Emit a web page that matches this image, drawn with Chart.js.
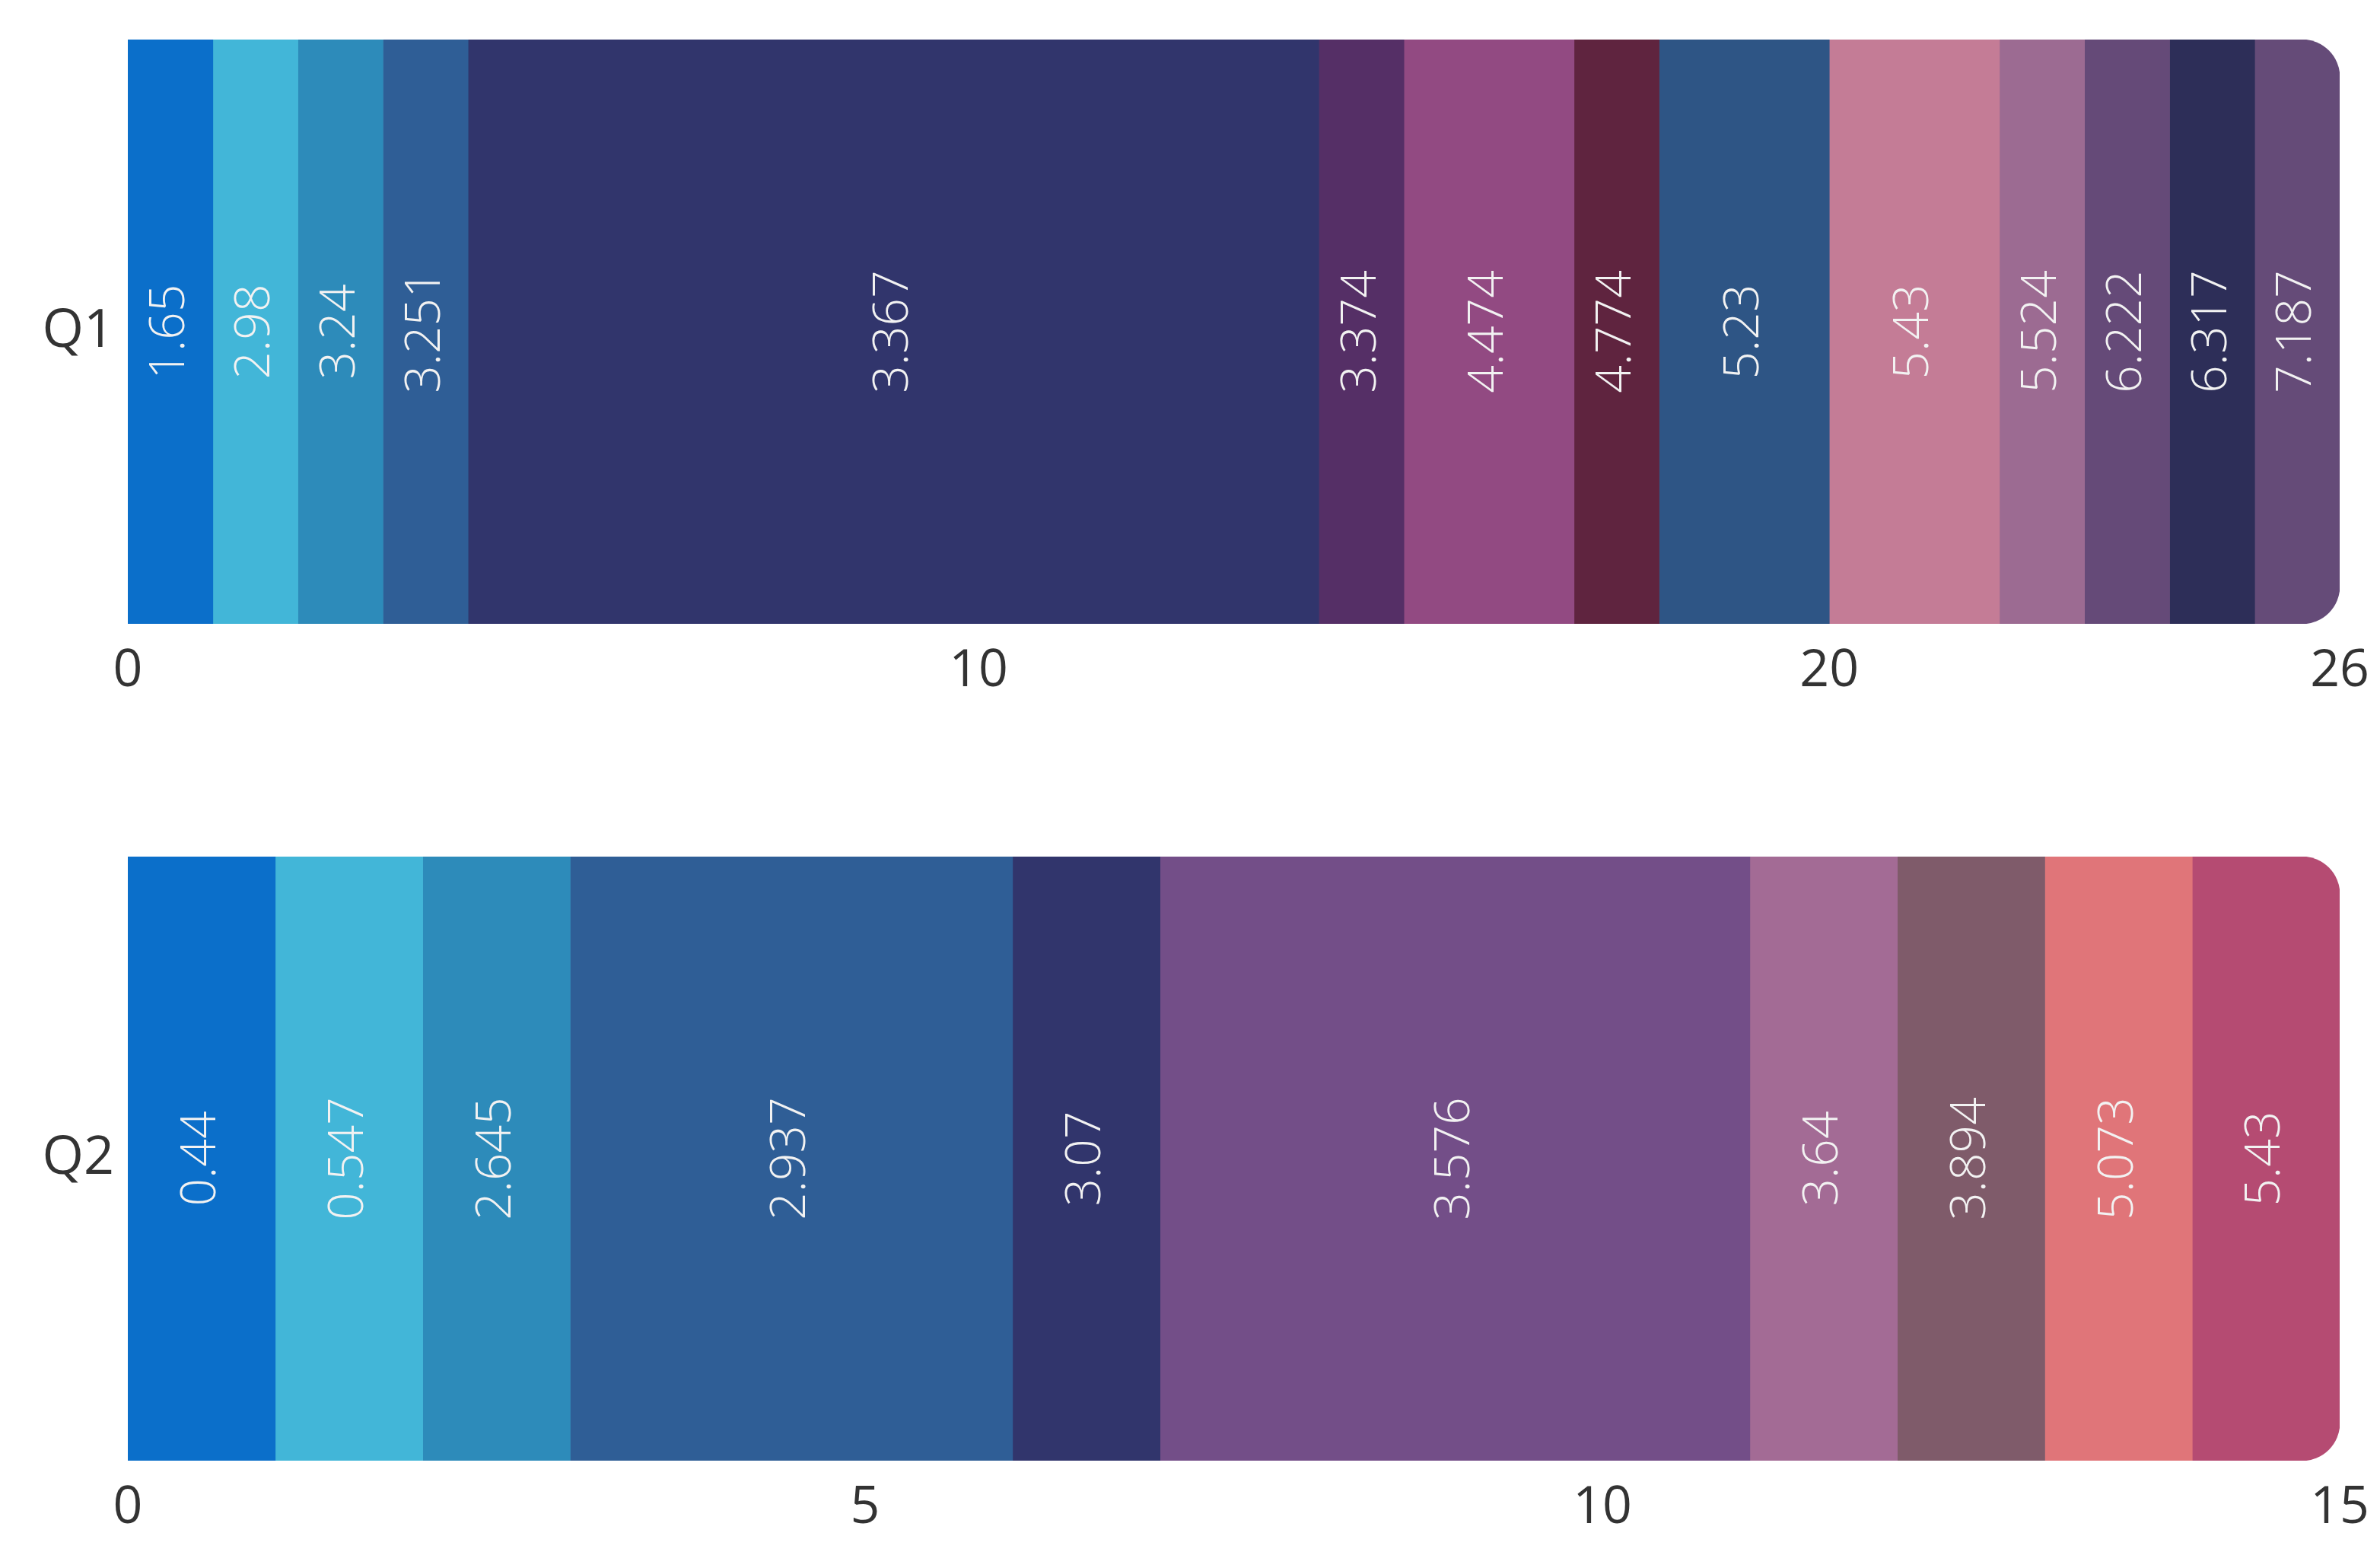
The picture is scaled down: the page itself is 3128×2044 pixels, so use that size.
<!DOCTYPE html>
<html><head><meta charset="utf-8">
<script src="https://cdn.jsdelivr.net/npm/chart.js@4"></script>
<style>body{margin:0;background:#fff}canvas{display:block}</style>
</head><body>
<div style="width:3128px;height:1000px"><canvas id="c1"></canvas></div>
<div style="width:3128px;height:1044px"><canvas id="c2"></canvas></div>
<script>
const q1Widths = [1,1,1,1,10,1,2,1,2,2,1,1,1,1];
const q1Labels = ["1.65","2.98","3.24","3.251","3.367","3.374","4.474","4.774","5.23","5.43","5.524","6.222","6.317","7.187"];
const q1Colors = ["#0b6fca","#42b6d8","#2d8bba","#2f5e96","#31356c","#552f66","#924a82","#5f243f","#2e5585","#c47c96","#9c6b92","#654a78","#2d2e58","#654b78"];
const q2Widths = [1,1,1,3,1,4,1,1,1,1];
const q2Labels = ["0.44","0.547","2.645","2.937","3.07","3.576","3.64","3.894","5.073","5.43"];
const q2Colors = ["#0b6fca","#42b6d8","#2d8bba","#2f5e96","#31356c","#734e88","#a36b95","#7f5b6a","#e07579","#b54b72"];

const labelPlugin = {
  id:'vlabels',
  afterDatasetsDraw(chart){
    const ctx = chart.ctx;
    const labels = chart.options.plugins.vlabels.labels;
    chart.data.datasets.forEach((ds,i)=>{
      const el = chart.getDatasetMeta(i).data[0];
      const cx = (el.x + el.base)/2, cy = el.y;
      ctx.save();
      ctx.translate(cx, cy);
      ctx.rotate(-Math.PI/2);
      ctx.fillStyle = '#f2f2f2';
      ctx.font = '300 64px "Open Sans"';
      ctx.textAlign = 'center'; ctx.textBaseline = 'middle';
      ctx.fillText(labels[i], 0, 0);
      ctx.restore();
    });
  }
};

function make(id, cat, widths, labels, colors, max, step, padTop, xh){
  new Chart(document.getElementById(id), {
    type:'bar',
    data:{labels:[cat], datasets: widths.map((w,i)=>({
      data:[w], backgroundColor:colors[i], borderWidth:0,
      borderRadius: i===widths.length-1 ? {topRight:50,bottomRight:50,topLeft:0,bottomLeft:0} : 0,
      borderSkipped:false, barPercentage:1, categoryPercentage:1
    }))},
    options:{
      indexAxis:'y', responsive:true, maintainAspectRatio:false, animation:false, devicePixelRatio:1,
      layout:{padding:{top:padTop,right:48,left:0,bottom:0}},
      plugins:{legend:{display:false},tooltip:{enabled:false},vlabels:{labels}},
      scales:{
        x:{stacked:true,min:0,max:max,grid:{display:false},border:{display:false},
           ticks:{stepSize:step,color:'#333',font:{family:'Open Sans',size:68},padding:14},
           afterFit(s){s.height=xh;}},
        y:{stacked:true,grid:{display:false},border:{display:false},
           ticks:{color:'#333',font:{family:'Open Sans',size:70},padding:10},
           afterFit(s){s.width=168;}}
      }
    },
    plugins:[labelPlugin]
  });
}
make('c1','Q1',q1Widths,q1Labels,q1Colors,26,10,24,180);
make('c2','Q2',q2Widths,q2Labels,q2Colors,15,5,126,124);
</script>
</body></html>
